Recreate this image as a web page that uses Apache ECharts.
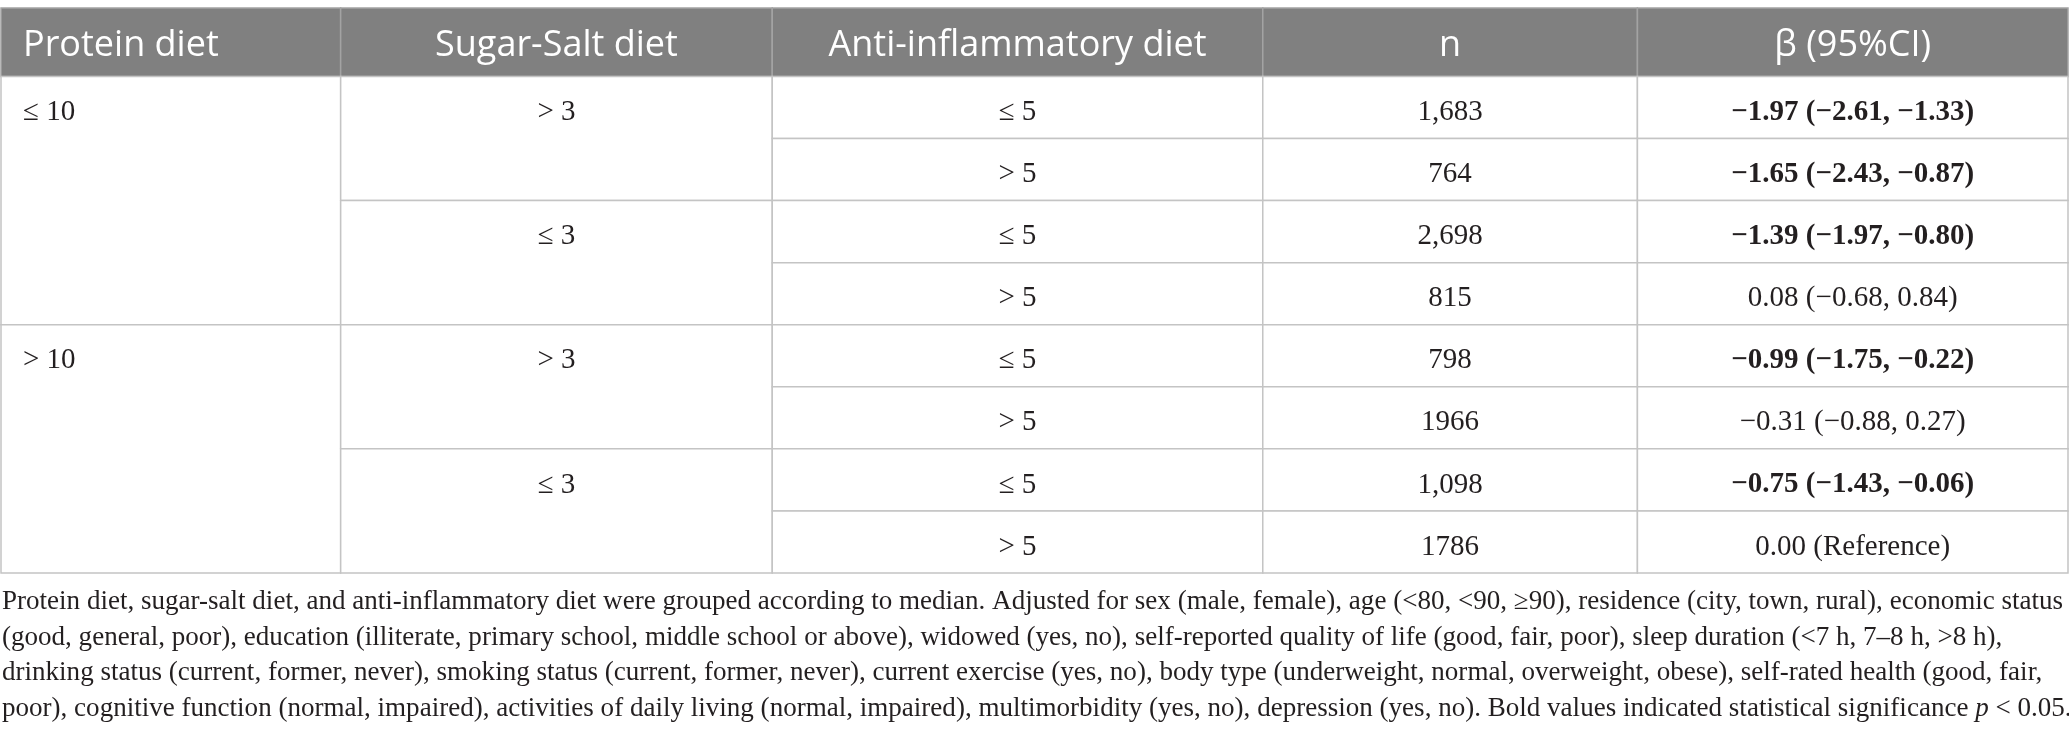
<!DOCTYPE html>
<html>
<head>
    <meta charset="utf-8">
    <title>ECharts</title>
    <script src="https://cdn.jsdelivr.net/npm/echarts@6/dist/echarts.min.js"></script>
    <style>
        html, body { margin: 0; padding: 0; background: #fff; }
    </style>
</head>
<body>
    <div id="main" style="width:2069px;height:742px;"></div>
    <script type="text/javascript">
        // 表格内容
        var headers = ['Protein diet', 'Sugar-Salt diet', 'Anti-inflammatory diet', 'n', 'β (95%CI)'];
        var proteinGroups = ['≤ 10', '> 10'];
        var sugarGroups = ['> 3', '≤ 3'];
        var antiGroups = ['≤ 5', '> 5'];
        var nValues = ['1,683', '764', '2,698', '815', '798', '1966', '1,098', '1786'];
        var betaValues = [
            '−1.97 (−2.61, −1.33)',
            '−1.65 (−2.43, −0.87)',
            '−1.39 (−1.97, −0.80)',
            '0.08 (−0.68, 0.84)',
            '−0.99 (−1.75, −0.22)',
            '−0.31 (−0.88, 0.27)',
            '−0.75 (−1.43, −0.06)',
            '0.00 (Reference)'
        ];
        var significant = [true, true, true, false, true, false, true, false];
        var noteLines = [
            'Protein diet, sugar-salt diet, and anti-inflammatory diet were grouped according to median. Adjusted for sex (male, female), age (<80, <90, ≥90), residence (city, town, rural), economic status',
            '(good, general, poor), education (illiterate, primary school, middle school or above), widowed (yes, no), self-reported quality of life (good, fair, poor), sleep duration (<7 h, 7–8 h, >8 h),',
            'drinking status (current, former, never), smoking status (current, former, never), current exercise (yes, no), body type (underweight, normal, overweight, obese), self-rated health (good, fair,',
            'poor), cognitive function (normal, impaired), activities of daily living (normal, impaired), multimorbidity (yes, no), depression (yes, no). Bold values indicated statistical significance {i|p} < 0.05.'
        ];

        // 布局
        var colEdges = [0, 340, 772, 1263, 1638, 2069];
        var HEAD = 1.103; // 表头高度（以行高为单位）
        var serif = '"Liberation Serif", "Times New Roman", serif';
        var sans = '"Open Sans", "Noto Sans", sans-serif';

        // 单元格：列、起始行（-1为表头）、跨行数、文字
        var cells = [];
        headers.forEach(function (h, i) {
            cells.push({ col: i, row: -1, span: 1, text: h, head: true });
        });
        proteinGroups.forEach(function (p, i) {
            cells.push({ col: 0, row: i * 4, span: 4, text: p });
        });
        for (var k = 0; k < 4; k++) {
            cells.push({ col: 1, row: k * 2, span: 2, text: sugarGroups[k % 2] });
        }
        for (var r = 0; r < 8; r++) {
            cells.push({ col: 2, row: r, span: 1, text: antiGroups[r % 2] });
            cells.push({ col: 3, row: r, span: 1, text: nValues[r] });
            cells.push({ col: 4, row: r, span: 1, text: betaValues[r], bold: significant[r] });
        }

        function renderCell(params, api) {
            var c = cells[params.dataIndex];
            var y0 = c.head ? 0 : HEAD + c.row;
            var y1 = c.head ? HEAD : HEAD + c.row + c.span;
            var yt = c.head ? HEAD / 2 : HEAD + c.row + 0.5;
            var p0 = api.coord([colEdges[c.col], y0]);
            var p1 = api.coord([colEdges[c.col + 1], y1]);
            var pt = api.coord([0, yt]);
            var left = c.col === 0;
            return {
                type: 'group',
                children: [{
                    type: 'rect',
                    shape: { x: p0[0], y: p0[1], width: p1[0] - p0[0], height: p1[1] - p0[1] },
                    style: {
                        fill: c.head ? '#808080' : '#ffffff',
                        stroke: c.head ? '#a3a3a3' : '#c4c4c4',
                        lineWidth: 1.5
                    }
                }, {
                    type: 'text',
                    x: left ? p0[0] + 22 : (p0[0] + p1[0]) / 2,
                    y: c.head ? pt[1] + 4 : pt[1] + 5,
                    style: {
                        text: c.text,
                        fill: c.head ? '#ffffff' : '#231f20',
                        fontFamily: c.head ? sans : serif,
                        fontSize: c.head ? 36 : 29,
                        fontWeight: c.bold ? 'bold' : 'normal',
                        align: left ? 'left' : 'center',
                        verticalAlign: 'middle'
                    }
                }]
            };
        }

        // 注释字号按第一行宽度调整
        var ctx = document.createElement('canvas').getContext('2d');
        ctx.font = '100px "Liberation Serif"';
        var noteSize = 100 * 2062 / ctx.measureText(noteLines[0]).width;
        var noteBase = [610, 645.5, 681, 716.5];

        var myChart = echarts.init(document.getElementById('main'));
        var option = {
            animation: false,
            grid: { left: 1, right: 1, top: 8, bottom: 169 },
            xAxis: { type: 'value', min: 0, max: colEdges[colEdges.length - 1], show: false },
            yAxis: { type: 'value', min: 0, max: HEAD + 8, inverse: true, show: false },
            series: [{
                type: 'custom',
                clip: false,
                renderItem: renderCell,
                data: cells.map(function (c) { return [colEdges[c.col], c.row]; })
            }],
            graphic: noteLines.map(function (line, i) {
                return {
                    type: 'text',
                    left: 2,
                    top: noteBase[i] - noteSize * 0.9 + 3,
                    style: {
                        text: line,
                        fill: '#231f20',
                        fontFamily: serif,
                        fontSize: noteSize,
                        rich: { i: { fontStyle: 'italic', fontFamily: serif, fontSize: noteSize, fill: '#231f20' } }
                    }
                };
            })
        };
        myChart.setOption(option);
    </script>
</body>
</html>
